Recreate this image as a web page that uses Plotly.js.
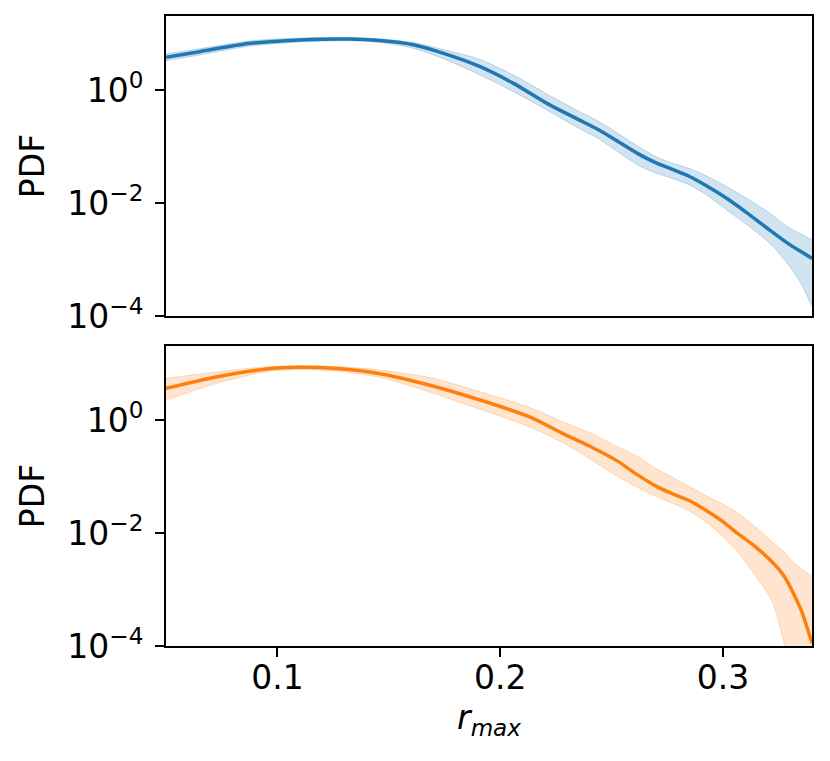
<!DOCTYPE html>
<html>
<head>
<meta charset="utf-8">
<script src="https://cdn.plot.ly/plotly-3.0.1.min.js"></script>
<style>
  html, body { margin: 0; padding: 0; background: #fff; }
  #myPlot { width: 830px; height: 761px; }
</style>
</head>
<body>
<div id="myPlot"></div>
<script>
// values, stored as log10(PDF)
let topX = [0.05, 0.065, 0.088, 0.11, 0.132, 0.146, 0.161, 0.176, 0.191, 0.206, 0.221, 0.235, 0.244,
            0.262, 0.270, 0.277, 0.285, 0.292, 0.303, 0.312, 0.321, 0.329, 0.335, 0.34];
let topMean = [0.578, 0.678, 0.826, 0.885, 0.903, 0.875, 0.80, 0.63, 0.413, 0.118, -0.236, -0.52, -0.70,
               -1.13, -1.29, -1.40, -1.53, -1.68, -1.95, -2.21, -2.48, -2.71, -2.86, -2.98];
let topUpper = [0.64, 0.73, 0.87, 0.92, 0.93, 0.905, 0.84, 0.70, 0.54, 0.265, -0.07, -0.37, -0.55,
                -1.0, -1.18, -1.29, -1.39, -1.51, -1.74, -1.95, -2.18, -2.42, -2.55, -2.65];
let topLower = [0.52, 0.62, 0.78, 0.85, 0.87, 0.84, 0.74, 0.53, 0.265, -0.03, -0.354, -0.67, -0.86,
                -1.33, -1.47, -1.56, -1.68, -1.84, -2.16, -2.42, -2.71, -3.07, -3.42, -3.83];

let botX = [0.05, 0.073, 0.095, 0.11, 0.125, 0.146, 0.168, 0.191, 0.213, 0.228, 0.240, 0.252, 0.262,
            0.270, 0.277, 0.285, 0.292, 0.300, 0.306, 0.3145, 0.322, 0.3265, 0.3294, 0.3324, 0.3354, 0.34];
let botMean = [0.56, 0.767, 0.903, 0.932, 0.914, 0.82, 0.62, 0.354, 0.059, -0.236, -0.46, -0.71, -0.98,
               -1.17, -1.30, -1.43, -1.59, -1.80, -1.99, -2.24, -2.51, -2.71, -2.89, -3.13, -3.39, -3.95];
let botUpper = [0.738, 0.85, 0.944, 0.96, 0.95, 0.885, 0.755, 0.50, 0.224, -0.03, -0.22, -0.46, -0.65,
                -0.86, -1.01, -1.18, -1.33, -1.49, -1.63, -1.89, -2.15, -2.30, -2.42, -2.54, -2.64, -2.76];
let botLower = [0.354, 0.65, 0.855, 0.897, 0.87, 0.755, 0.50, 0.189, -0.118, -0.40, -0.68, -0.98, -1.20,
                -1.35, -1.47, -1.61, -1.79, -2.06, -2.30, -2.75, -3.2, -3.8, -4.3, -4.8, -5.0, -5.5];

let yTickVals = [1e-4, 1e-2, 1];
let yTickText = ['10<sup>\u22124</sup>', '10<sup>\u22122</sup>', '10<sup>0</sup>'];
let xTickVals = [0.1, 0.2, 0.3];
let xTickText = ['0.1', '0.2', '0.3'];

function pow10(arr) {
  return arr.map(v => Math.pow(10, v));
}

function band(x, lo, hi, mid, col, xa, ya) {
  let edge = 'rgba(' + col + ',0.25)';
  return [
    { x: x, y: pow10(lo), xaxis: xa, yaxis: ya, mode: 'lines', type: 'scatter',
      line: { color: edge, width: 1, shape: 'spline', smoothing: 0.8 }, hoverinfo: 'skip' },
    { x: x, y: pow10(hi), xaxis: xa, yaxis: ya, mode: 'lines', type: 'scatter', fill: 'tonexty',
      fillcolor: 'rgba(' + col + ',0.2)',
      line: { color: edge, width: 1, shape: 'spline', smoothing: 0.8 }, hoverinfo: 'skip' },
    { x: x, y: pow10(mid), xaxis: xa, yaxis: ya, mode: 'lines', type: 'scatter',
      line: { color: 'rgb(' + col + ')', width: 3.5, shape: 'spline', smoothing: 0.8 } }
  ];
}

let data = band(topX, topLower, topUpper, topMean, '31,119,180', 'x', 'y')
  .concat(band(botX, botLower, botUpper, botMean, '255,127,14', 'x2', 'y2'));

let font = { family: 'DejaVu Sans, sans-serif', size: 33, color: '#000' };

let yCommon = {
  type: 'log',
  range: [-4, 1.31],
  tickvals: yTickVals,
  ticktext: yTickText,
  ticks: 'outside',
  ticklen: 9,
  tickwidth: 2,
  tickcolor: '#000',
  ticklabelstandoff: 5,
  showline: true,
  linecolor: '#000',
  linewidth: 2,
  mirror: true,
  showgrid: false,
  zeroline: false,
  tickfont: font,
  title: { text: 'PDF', font: font, standoff: 13 }
};

let layout = {
  width: 830,
  height: 761,
  margin: { l: 166, r: 18, t: 16, b: 115 },
  paper_bgcolor: '#fff',
  plot_bgcolor: '#fff',
  showlegend: false,
  font: font,
  xaxis: {
    anchor: 'y',
    domain: [0, 1],
    range: [0.05, 0.34],
    showticklabels: false,
    ticks: '',
    showline: true,
    linecolor: '#000',
    linewidth: 2,
    mirror: true,
    showgrid: false,
    zeroline: false
  },
  yaxis: Object.assign({}, yCommon, { domain: [0.5238, 1], anchor: 'x' }),
  xaxis2: {
    anchor: 'y2',
    domain: [0, 1],
    range: [0.05, 0.34],
    tickvals: xTickVals,
    ticktext: xTickText,
    ticks: 'outside',
    ticklen: 9,
    tickwidth: 2,
    tickcolor: '#000',
    ticklabelstandoff: -8,
    showline: true,
    linecolor: '#000',
    linewidth: 2,
    mirror: true,
    showgrid: false,
    zeroline: false,
    tickfont: font,
    title: { text: '<i>r</i><sub><i>max</i></sub>', font: font, standoff: 10 }
  },
  yaxis2: Object.assign({}, yCommon, { domain: [0, 0.4762], anchor: 'x2' })
};

Plotly.newPlot('myPlot', data, layout, { displayModeBar: false, staticPlot: true });
</script>
</body>
</html>
